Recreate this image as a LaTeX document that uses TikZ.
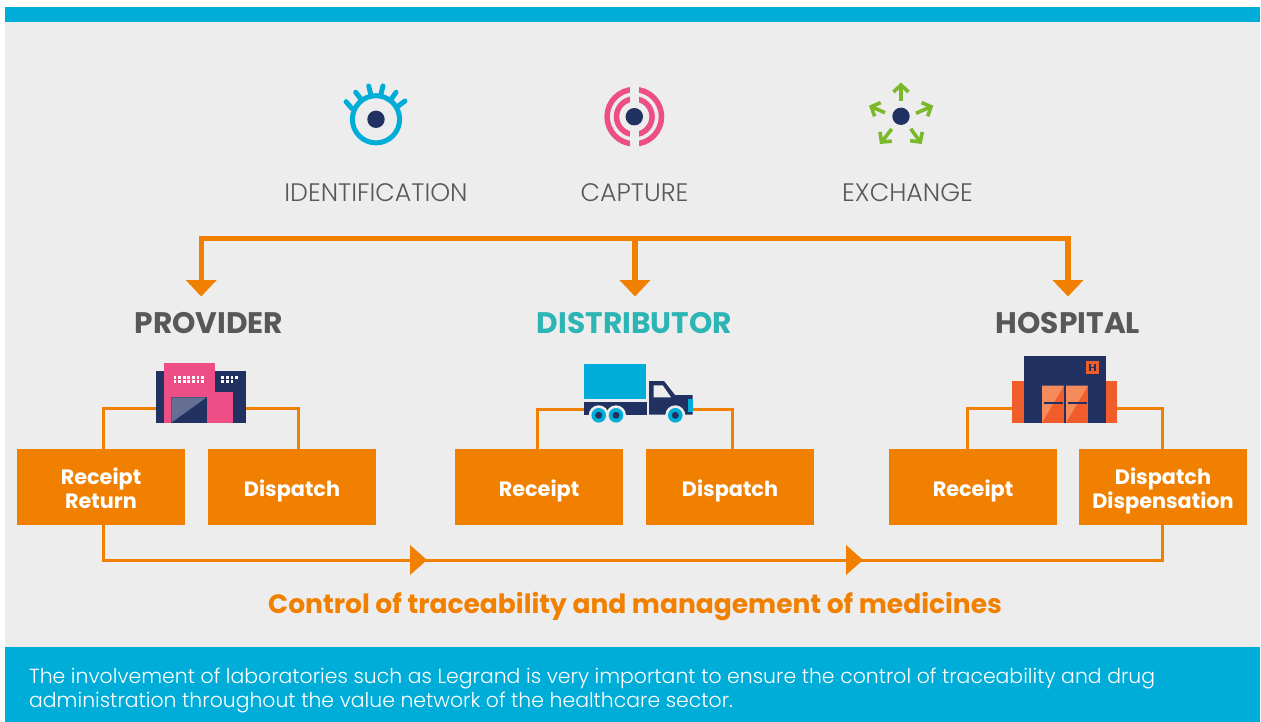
\documentclass[tikz,border=0pt]{standalone}
\usepackage{fontspec}
\setmainfont{Poppins}
\newfontfamily\lightfont{Poppins Light}
\usetikzlibrary{arrows.meta}
\definecolor{band}{HTML}{00ADD8}
\definecolor{paper}{HTML}{EDEDED}
\definecolor{route}{HTML}{F18000}
\definecolor{navy}{HTML}{213262}
\definecolor{rose}{HTML}{EC4E85}
\definecolor{leaf}{HTML}{7AB929}
\definecolor{brick}{HTML}{F15D2A}
\definecolor{brickpale}{HTML}{F58A5B}
\definecolor{slate}{HTML}{58585A}
\definecolor{teal}{HTML}{2DB5B5}
\tikzset{>={Triangle[width=30pt,length=16.5pt]}}
\tikzset{
  step name/.style = {text=slate,font=\lightfont\fontsize{25.3}{30}\selectfont,inner sep=0pt},
  actor/.style = {text=slate,font=\bfseries\fontsize{29.7}{34}\selectfont,inner sep=0pt},
  stage/.style = {fill=route,text=white,minimum width=168pt,minimum height=76pt,inner sep=0pt,align=center,font=\bfseries\fontsize{20.8}{24}\selectfont,
    execute at begin node={\rule{0pt}{25pt}},execute at end node={\rule[-7pt]{0pt}{0pt}}},
  stage two/.style = {stage,execute at begin node={\rule{0pt}{49pt}}},
  link/.style = {draw=route,line width=3pt},
  bus/.style = {draw=route,line width=5.3pt},
  flick/.style = {leaf,line width=3.6pt,-{Straight Barb[length=7pt,width=15pt]}},
  lash/.style = {band,line width=5pt,line cap=round}
}

\begin{document}
\begin{tikzpicture}[x=1pt,y=-1pt]
  \useasboundingbox (0,0) rectangle (1261,722);
  % background
  \fill[paper] (5,22) rectangle (1260,647);
  \fill[band] (5,7) rectangle (1260,22);
  \fill[band] (5,647) rectangle (1260,722);
  % eye
  \draw[band,line width=5pt] (376,119.3) circle (23.6);
  \foreach \xa/\ya/\xb/\yb in {351.7/108.3/346/101.7,361.7/100/355.7/92.3,370.7/94/368.7/86,381/94/383/86,390.7/100/396/92.3,398.3/106/405/101}
    \draw[lash] (\xa,\ya) -- (\xb,\yb);
  \fill[navy] (376,119.3) circle (8.7);
  % rings
  \draw[rose,line width=5.5pt] (634.3,116.7) circle (17.8);
  \draw[rose,line width=5.5pt] (634.3,116.7) circle (27.2);
  \fill[paper] (629.8,85) rectangle (638.8,149);
  \fill[navy] (634.3,116.7) circle (8.7);
  % arrows out
  \fill[navy] (901,116.3) circle (8.7);
  \foreach \xa/\ya/\xb/\yb in {901/100.7/901/82.5,916/113.3/933.3/105.7,885/112.7/869/105.7,910.7/128.7/921.7/144,891.7/129/880/144}
    \draw[flick] (\xa,\ya) -- (\xb,\yb);
  % labels
  \node (identification) at (376,193) [step name] {IDENTIFICATION};
  \node (capture) at (634.5,193) [step name] {CAPTURE};
  \node (exchange) at (907.5,193) [step name] {EXCHANGE};
  \node (provider) at (209,323) [actor] {PROVIDER};
  \node (distributor) at (634.5,323) [actor,text=teal] {DISTRIBUTOR};
  \node (hospital) at (1068,323) [actor] {HOSPITAL};
  % bus
  \coordinate (busL) at (201.2,238.7);
  \coordinate (busM) at (635,238.7);
  \coordinate (busR) at (1068,238.7);
  \coordinate (tipL) at (201.2,296.5);
  \coordinate (tipM) at (635,296.5);
  \coordinate (tipR) at (1068,296.5);
  \draw[bus,<->] (tipL) -- (busL) -- (busR) -- (tipR);
  \draw[bus,->] (busM) -- (tipM);
  % boxes
  \node (receiptA) at (101,487) [stage two] {Receipt\\Return};
  \node (dispatchA) at (292,487) [stage] {Dispatch};
  \node (receiptB) at (539,487) [stage] {Receipt};
  \node (dispatchB) at (730,487) [stage] {Dispatch};
  \node (receiptC) at (973,487) [stage] {Receipt};
  \node (dispatchC) at (1163,487) [stage two] {Dispatch\\Dispensation};
  % links to the icons
  \coordinate (factoryL) at (156,408);
  \coordinate (factoryR) at (246,408);
  \coordinate (truckL) at (584,409);
  \coordinate (truckR) at (693,409);
  \coordinate (houseL) at (1012,408);
  \coordinate (houseR) at (1117,408);
  \draw[link] ([xshift=2pt]receiptA.north) |- (factoryL);
  \draw[link] (factoryR) -| ([xshift=6pt]dispatchA.north);
  \draw[link] ([xshift=-2pt]receiptB.north) |- (truckL);
  \draw[link] (truckR) -| ([xshift=2pt]dispatchB.north);
  \draw[link] ([xshift=-6pt]receiptC.north) |- (houseL);
  \draw[link] (houseR) -| ([xshift=-1pt]dispatchC.north);
  \draw[link] ([xshift=2pt]receiptA.south) |- (632,560) -| ([xshift=-1pt]dispatchC.south);
  \fill[route] (410,545) -- (427,560) -- (410,575) -- cycle;
  \fill[route] (846,545) -- (863,560) -- (846,575) -- cycle;
  % factory
  \fill[navy] (156,371) rectangle (246,422.7);
  \fill[rose] (164,362.7) rectangle (215,422.7);
  \fill[rose] (215,392.3) rectangle (232.7,422.7);
  \fill[navy] (171.3,397.3) rectangle (206.7,422.7);
  \fill[navy!70!white] (171.3,397.3) -- (206.7,397.3) -- (171.3,422.7) -- cycle;
  \foreach \i in {0,...,6} {
    \fill[white] (173.8+4.56*\i,376) rectangle +(2.6,2.6);
    \fill[white] (173.8+4.56*\i,380.4) rectangle +(2.6,2.6);
  }
  \foreach \i in {0,...,3}
    \fill[white] (221.4+4.56*\i,376) rectangle +(2.6,2.6);
  \foreach \i in {0,...,2}
    \fill[white] (221.4+4.56*\i,380.4) rectangle +(2.6,2.6);
  % truck
  \fill[band] (584,364) rectangle (646,399);
  \fill[navy] (584,402) rectangle (646.7,414.5);
  \fill[navy] (649,381) -- (664,381) -- (675,395) -- (692.7,395) -- (692.7,414.7) -- (649,414.7) -- cycle;
  \fill[paper] (653.7,385.3) -- (662.7,385.3) -- (671,397.3) -- (653.7,397.3) -- cycle;
  \fill[band] (688,399) rectangle (692.7,411.7);
  \foreach \x in {598.7,616,675.3} {
    \fill[paper] (\x,415.3) circle (10);
    \fill[band] (\x,415.3) circle (7.3);
    \fill[navy] (\x,415.3) circle (3.5);
  }
  % hospital
  \fill[brick] (1012,381) rectangle (1117,422.7);
  \fill[navy] (1024,356) rectangle (1106,422.7);
  \foreach \x in {1042,1066} {
    \fill[brick] (\x,385.7) rectangle +(22,37);
    \fill[brickpale] (\x,385.7) -- +(22,0) -- +(0,37) -- cycle;
    \draw[navy,line width=2pt] (\x+2,402.7) -- +(19,0);
  }
  \fill[brick] (1086,361) rectangle (1099,374);
  \draw[navy,line width=1.5pt] (1090,364) -- (1090,371) (1095,364) -- (1095,371) (1090,367.5) -- (1095,367.5);
  % captions
  \node (control) at (635,607) [text=route,inner sep=0pt,font=\bfseries\fontsize{26.5}{30}\selectfont] {Control of traceability and management of medicines};
  \node (note) at (29,691) [anchor=west,text=white,align=left,inner sep=0pt,font=\lightfont\fontsize{20.4}{24}\selectfont] {The involvement of laboratories such as Legrand is very important to ensure the control of traceability and drug\\administration throughout the value network of the healthcare sector.};
\end{tikzpicture}
\end{document}
